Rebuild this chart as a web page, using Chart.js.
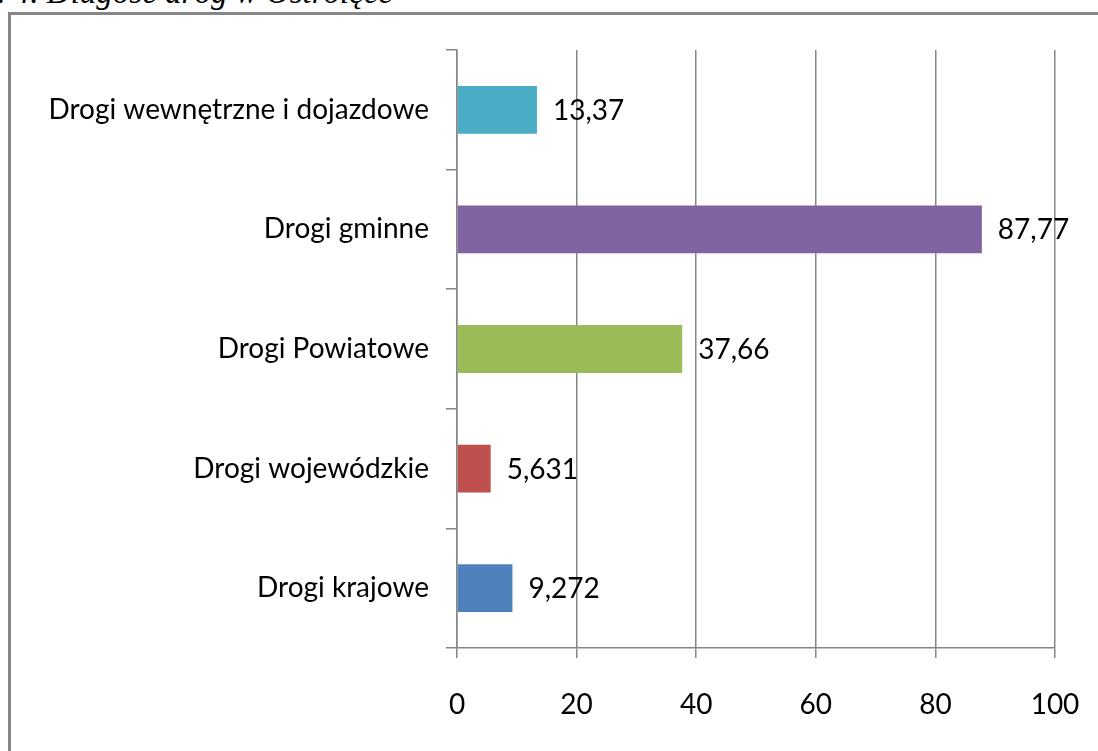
<!DOCTYPE html>
<html>
<head>
<meta charset="utf-8">
<script src="https://cdn.jsdelivr.net/npm/chart.js@4.4.1/dist/chart.umd.min.js"></script>
<style>
  html, body { margin: 0; padding: 0; background: #fff; overflow: hidden; }
  body { width: 1098px; height: 751px; position: relative; }
  #caption {
    position: absolute; right: 705px; top: -24px;
    font-family: "Liberation Serif", serif; font-style: italic; font-size: 33px;
    line-height: 1; white-space: nowrap; color: #000;
  }
  #frame {
    position: absolute; left: 8px; top: 12px; width: 1200px; height: 800px;
    border: 3px solid #868686; box-sizing: border-box;
  }
  #wrap { position: absolute; left: 0; top: 0; width: 1098px; height: 751px; }
</style>
</head>
<body>
<div id="caption">Rys. 4. Długość dróg w Ostrołęce</div>
<div id="frame"></div>
<div id="wrap"><canvas id="roadChart"></canvas></div>
<script>
// Road length per category (km)
const categories = ['Drogi wewnętrzne i dojazdowe', 'Drogi gminne', 'Drogi Powiatowe', 'Drogi wojewódzkie', 'Drogi krajowe'];
const lengths = [13.37, 87.77, 37.66, 5.631, 9.272];
const valueLabels = ['13,37', '87,77', '37,66', '5,631', '9,272'];
const barColors = ['#4BACC6', '#8064A2', '#9BBB59', '#C0504D', '#4F81BD'];

const gridGrey = '#868686';
const labelFont = { family: "Lato, 'Open Sans', sans-serif", size: 28 };

// Draws the value next to the end of each bar
const valueLabelPlugin = {
    id: 'valueLabels',
    afterDatasetsDraw(chart) {
        const ctx = chart.ctx;
        const meta = chart.getDatasetMeta(0);
        ctx.save();
        ctx.font = labelFont.size + 'px ' + labelFont.family;
        ctx.fillStyle = '#000';
        ctx.textBaseline = 'middle';
        ctx.textAlign = 'left';
        meta.data.forEach(function(bar, i) {
            ctx.fillText(valueLabels[i], bar.x + 16, bar.y + 1);
        });
        ctx.restore();
    }
};

const ctx = document.getElementById('roadChart').getContext('2d');
new Chart(ctx, {
    type: 'bar',
    data: {
        labels: categories,
        datasets: [{
            data: lengths,
            backgroundColor: barColors,
            borderWidth: 0,
            barPercentage: 0.4,
            categoryPercentage: 1.0
        }]
    },
    options: {
        indexAxis: 'y',
        responsive: true,
        maintainAspectRatio: false,
        animation: false,
        layout: { padding: { top: 50, right: 43, left: 0, bottom: 0 } },
        plugins: {
            legend: { display: false },
            tooltip: { enabled: false }
        },
        scales: {
            x: {
                min: 0,
                max: 100,
                ticks: {
                    stepSize: 20,
                    color: '#000',
                    font: labelFont,
                    padding: 30
                },
                grid: {
                    color: gridGrey,
                    lineWidth: 1.5,
                    tickLength: 10,
                    tickColor: gridGrey
                },
                border: { display: true, color: gridGrey, width: 1.5 },
                afterFit: function(scale) {
                    scale.height = 103;
                    scale.paddingLeft = 0;
                    scale.paddingRight = 0;
                }
            },
            y: {
                ticks: {
                    color: '#000',
                    font: labelFont,
                    padding: 17
                },
                grid: {
                    offset: true,
                    drawOnChartArea: false,
                    color: gridGrey,
                    lineWidth: 1.5,
                    tickLength: 11
                },
                border: { display: true, color: gridGrey, width: 1.5 },
                afterFit: function(scale) {
                    scale.width = 457;
                    scale.paddingTop = 0;
                    scale.paddingBottom = 0;
                }
            }
        }
    },
    plugins: [valueLabelPlugin]
});
</script>
</body>
</html>
